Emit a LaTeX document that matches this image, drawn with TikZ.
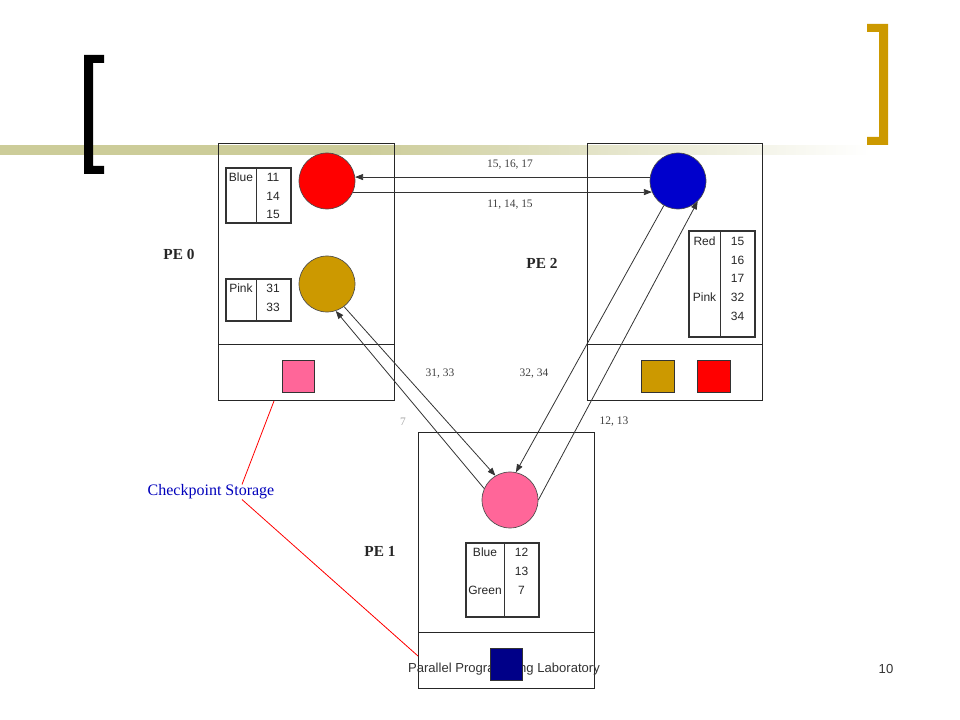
\documentclass[tikz,border=0pt]{standalone}
\usepackage{fontspec}
\setmainfont{Liberation Serif}
\setsansfont{Liberation Sans}
\usetikzlibrary{arrows.meta}
\definecolor{bandolive}{HTML}{CCCC99}
\definecolor{darkgold}{HTML}{CC9900}
\definecolor{procred}{HTML}{FF0000}
\definecolor{procblue}{HTML}{0000CC}
\definecolor{procpink}{HTML}{FF6699}
\definecolor{procnavy}{HTML}{000088}
\definecolor{ckptblue}{HTML}{0000BB}
\pgfdeclarehorizontalshading{bandfade}{100bp}{color(0bp)=(bandolive); color(46bp)=(bandolive); color(75bp)=(white); color(100bp)=(white)}

\tikzset{
  pebox/.style={draw=black!85, line width=0.75pt},
  proc/.style={circle, draw=black!70, line width=0.5pt, minimum size=42pt, inner sep=0pt},
  ckptsq/.style={draw=black!80, line width=0.6pt, minimum width=24.5pt, minimum height=24pt, inner sep=0pt},
  tabframe/.style={draw=black!80, line width=2pt},
  tabtxt/.style={font=\sffamily\fontsize{9}{10}\selectfont, text=black!85, inner sep=0pt},
  msglbl/.style={font=\fontsize{8.6}{10}\selectfont, text=black!75, inner sep=0pt},
  pelbl/.style={font=\bfseries\fontsize{11.5}{13}\selectfont, text=black!85, inner sep=0pt},
  msg/.style={draw=black!80, line width=0.6pt, -{Triangle[length=6pt,width=4.5pt]}},
}

\begin{document}
\begin{tikzpicture}[x=0.75pt,y=-0.75pt]
\useasboundingbox (0,0) rectangle (960,720);
% slide decoration
\shade[shading=bandfade] (0,146) rectangle (870,155);
\fill[black] (104,55) -- (84,55) -- (84,174) -- (104,174) -- (104,166) -- (93,166) -- (93,63) -- (104,63) -- cycle;
\fill[darkgold] (867,24) -- (888,24) -- (888,145) -- (867,145) -- (867,137) -- (879,137) -- (879,32) -- (867,32) -- cycle;

% processor boxes
\draw[pebox] (218,144) rectangle (394,400);
\draw[pebox] (218,344) -- (394,344);
\draw[pebox] (587,144) rectangle (762,400);
\draw[pebox] (587,344) -- (762,344);
\draw[pebox] (418,432) rectangle (594,688);
\draw[pebox] (418,632) -- (594,632);

\node[pelbl] (pe0) at (179,254) {PE 0};
\node[pelbl] (pe2) at (542,263) {PE 2};
\node[pelbl] (pe1) at (380,551) {PE 1};

% objects
\node[proc, fill=procred] (redobj) at (327,181) {};
\node[proc, fill=darkgold] (goldobj) at (327,284) {};
\node[proc, fill=procblue] (blueobj) at (678,181) {};
\node[proc, fill=procpink] (pinkobj) at (510,500) {};

% tables PE 0
\draw[line width=0.6pt, black!80] (256,168) -- (256,223);
\draw[tabframe] (226,168) rectangle (291,223);
\node[tabtxt] (t0a) at (241,177) {Blue};
\foreach \v/\y in {11/177, 14/196, 15/214}
  \node[tabtxt] at (273,\y) {\v};
\draw[line width=0.6pt, black!80] (256,279) -- (256,321);
\draw[tabframe] (226,279) rectangle (291,321);
\node[tabtxt] (t0b) at (241,288) {Pink};
\foreach \v/\y in {31/288, 33/307}
  \node[tabtxt] at (273,\y) {\v};

% table PE 2
\draw[line width=0.6pt, black!80] (720,231) -- (720,337);
\draw[tabframe] (689,231) rectangle (755,337);
\node[tabtxt] (t2a) at (704.5,241) {Red};
\node[tabtxt] (t2b) at (704.5,297) {Pink};
\foreach \v/\y in {15/241, 16/260, 17/278, 32/297, 34/316}
  \node[tabtxt] at (737.5,\y) {\v};

% table PE 1
\draw[line width=0.6pt, black!80] (504,543) -- (504,617);
\draw[tabframe] (466,543) rectangle (539,617);
\node[tabtxt] (t1a) at (485,552) {Blue};
\node[tabtxt] (t1b) at (485,590) {Green};
\foreach \v/\y in {12/552, 13/571, 7/590}
  \node[tabtxt] at (521.5,\y) {\v};

% checkpoint copies
\node[ckptsq, fill=procpink] (sq0) at (298.5,376) {};
\node[ckptsq, fill=darkgold] (sq2a) at (658,376) {};
\node[ckptsq, fill=procred] (sq2b) at (714,376) {};
\node[font=\sffamily\fontsize{9.8}{11}\selectfont, text=black!80, inner sep=0pt] (footer) at (504,669) {Parallel Programming Laboratory};
\node[font=\sffamily\fontsize{9.8}{11}\selectfont, text=black!80, inner sep=0pt] (pagenum) at (886,669) {10};
\node[ckptsq, fill=procnavy] (sq1) at (506.5,664) {};

% messages
\draw[msg] (blueobj.172) -- (redobj.8);
\draw[msg] (redobj.-23) -- (blueobj.-157);
\draw[msg] (goldobj.-53) -- (pinkobj.121);
\draw[msg] (pinkobj.156) -- (goldobj.-72);
\draw[msg] (blueobj.240) -- (pinkobj.78);
\draw[msg] (pinkobj.0) -- (blueobj.-46);

\node[msglbl] (m1) at (510,165) {15, 16, 17};
\node[msglbl] (m2) at (510,205) {11, 14, 15};
\node[msglbl] (m3) at (440,374) {31, 33};
\node[msglbl] (m4) at (534,374) {32, 34};
\node[msglbl, text=black!35] (m5) at (403,422) {7};
\node[msglbl] (m6) at (614,422) {12, 13};

% checkpoint storage
\node[font=\fontsize{12}{14}\selectfont, text=ckptblue, inner sep=0pt] (ckpt) at (211,492) {Checkpoint Storage};
\coordinate (st0) at (274,401);
\coordinate (st1) at (418,656);
\draw[procred, line width=0.6pt] (st0) -- ([xshift=23.25pt]ckpt.north);
\draw[procred, line width=0.6pt] ([xshift=23.25pt]ckpt.south) -- (st1);
\end{tikzpicture}
\end{document}
